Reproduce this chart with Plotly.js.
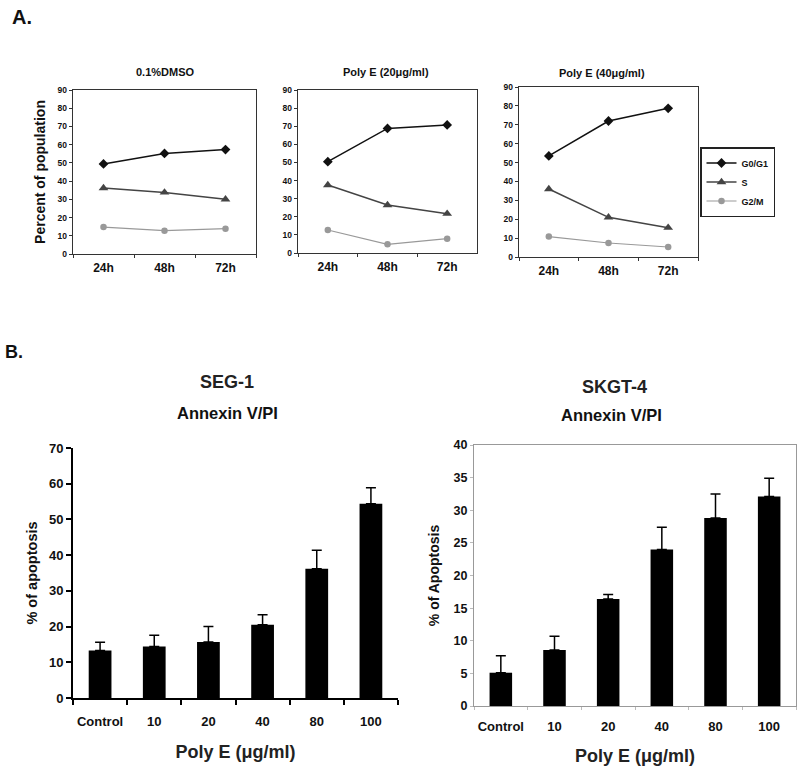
<!DOCTYPE html>
<html>
<head>
<meta charset="utf-8">
<script src="https://cdn.plot.ly/plotly-3.0.1.min.js"></script>
<style>html,body{margin:0;padding:0;background:#fff;}#chart{width:800px;height:771px;}</style>
</head>
<body>
<div id="chart"></div>
<script>
// ---- Data ----
const timepoints = ['24h', '48h', '72h'];
const dmso_G0G1 = [49.4, 55.2, 57.3];
const dmso_S    = [36.2, 33.8, 30.0];
const dmso_G2M  = [14.8, 12.8, 13.9];
const pe20_G0G1 = [50.4, 68.8, 70.7];
const pe20_S    = [37.5, 26.5, 21.7];
const pe20_G2M  = [12.7, 4.8, 7.9];
const pe40_G0G1 = [53.5, 72.0, 78.7];
const pe40_S    = [36.0, 21.0, 15.5];
const pe40_G2M  = [10.8, 7.4, 5.3];
const phaseNames = ['G0/G1', 'S', 'G2/M'];
const panelTitles = ['0.1%DMSO', 'Poly E (20μg/ml)', 'Poly E (40μg/ml)'];

const doses = ['Control', '10', '20', '40', '80', '100'];
const seg1_apoptosis = [13.3, 14.4, 15.7, 20.5, 36.2, 54.4];
const seg1_err       = [2.3, 3.2, 4.3, 2.8, 5.2, 4.5];
const skgt4_apoptosis = [5.1, 8.6, 16.4, 24.0, 28.8, 32.1];
const skgt4_err       = [2.6, 2.1, 0.7, 3.4, 3.7, 2.8];

// ---- Styles ----
const FONT = 'Liberation Sans, Arial, sans-serif';
const phaseStyles = [
  {line: {color: '#111', width: 1.5}, marker: {symbol: 'diamond', size: 7.5, color: '#111'}},
  {line: {color: '#444', width: 1.5}, marker: {symbol: 'triangle-up', size: 8.5, color: '#444'}},
  {line: {color: '#999', width: 1.2}, marker: {symbol: 'circle', size: 6.5, color: '#999'}}
];

const panels = [
  {series: [dmso_G0G1, dmso_S, dmso_G2M], xa: 'x', ya: 'y'},
  {series: [pe20_G0G1, pe20_S, pe20_G2M], xa: 'x2', ya: 'y2'},
  {series: [pe40_G0G1, pe40_S, pe40_G2M], xa: 'x3', ya: 'y3'}
];

const traces = [];
panels.forEach((p, pi) => {
  p.series.forEach((vals, si) => {
    traces.push({
      type: 'scatter', mode: 'lines+markers',
      x: timepoints, y: vals, xaxis: p.xa, yaxis: p.ya,
      name: phaseNames[si], legendgroup: phaseNames[si],
      showlegend: pi === 0,
      line: phaseStyles[si].line, marker: phaseStyles[si].marker
    });
  });
});

traces.push({
  type: 'bar', x: doses, y: seg1_apoptosis, xaxis: 'x4', yaxis: 'y4',
  marker: {color: '#000'}, showlegend: false, name: 'SEG-1',
  error_y: {type: 'data', symmetric: false, array: seg1_err, arrayminus: seg1_err.map(() => 0),
            color: '#000', thickness: 1.5, width: 5}
});
traces.push({
  type: 'bar', x: doses, y: skgt4_apoptosis, xaxis: 'x5', yaxis: 'y5',
  marker: {color: '#000'}, showlegend: false, name: 'SKGT-4',
  error_y: {type: 'data', symmetric: false, array: skgt4_err, arrayminus: skgt4_err.map(() => 0),
            color: '#000', thickness: 1.5, width: 5}
});

function pxX(px) { return px / 800; }
function pxY(py) { return 1 - py / 771; }

function aX(domain, extra) {
  return Object.assign({
    domain: domain, type: 'category', categoryorder: 'array', categoryarray: timepoints,
    range: [-0.5, 2.5], tickson: 'boundaries', ticks: 'outside', ticklen: 3, tickcolor: '#333',
    showline: true, linecolor: '#333', linewidth: 1.3, mirror: true, showgrid: false, zeroline: false,
    tickangle: 0, ticklabelstandoff: 2,
    tickfont: {family: FONT, size: 12, weight: 700, color: '#111'}, fixedrange: true
  }, extra || {});
}
function aY(domain, extra) {
  return Object.assign({
    domain: domain, range: [0, 90], dtick: 10, ticks: 'outside', ticklen: 3, tickcolor: '#333',
    showline: true, linecolor: '#333', linewidth: 1.3, mirror: true, showgrid: false, zeroline: false,
    tickfont: {family: FONT, size: 8.5, weight: 700, color: '#111'}, fixedrange: true
  }, extra || {});
}

function label(text, px, py, size, color) {
  return {text: text, x: pxX(px), y: pxY(py), xref: 'paper', yref: 'paper',
          xanchor: 'center', yanchor: 'middle', showarrow: false,
          font: {family: FONT, size: size, weight: 700, color: color || '#111'}};
}

const layout = {
  width: 800, height: 771,
  margin: {l: 0, r: 0, t: 0, b: 0},
  paper_bgcolor: '#fff', plot_bgcolor: '#fff',
  font: {family: FONT, color: '#111'},
  bargap: 0.58,
  showlegend: true,
  legend: {
    x: pxX(700), y: pxY(147), xanchor: 'left', yanchor: 'top',
    bordercolor: '#222', borderwidth: 1.5, bgcolor: '#fff',
    font: {family: FONT, size: 9, weight: 700, color: '#111'},
    itemwidth: 30, tracegroupgap: 0
  },
  xaxis: aX([pxX(73), pxX(256)], {anchor: 'y'}),
  yaxis: aY([pxY(254), pxY(90)], {anchor: 'x',
    title: {text: 'Percent of population', standoff: 8, font: {family: FONT, size: 14, weight: 700, color: '#111'}}}),
  xaxis2: aX([pxX(298), pxX(477)], {anchor: 'y2'}),
  yaxis2: aY([pxY(253), pxY(90)], {anchor: 'x2'}),
  xaxis3: aX([pxX(519), pxX(698)], {anchor: 'y3'}),
  yaxis3: aY([pxY(257), pxY(87)], {anchor: 'x3'}),
  xaxis4: {
    domain: [pxX(73), pxX(398)], anchor: 'y4', type: 'category', range: [-0.5, 5.5],
    tickson: 'boundaries', ticks: 'outside', ticklen: 5, tickwidth: 2, tickcolor: '#000',
    showline: true, linecolor: '#000', linewidth: 2, mirror: false, showgrid: false, zeroline: false,
    tickangle: 0, ticklabelstandoff: 10,
    tickfont: {family: FONT, size: 13, weight: 700, color: '#111'}, fixedrange: true,
    title: {text: 'Poly E (μg/ml)', standoff: 18, font: {family: FONT, size: 18, weight: 700, color: '#222'}}
  },
  yaxis4: {
    domain: [pxY(698), pxY(448)], anchor: 'x4', range: [0, 70], dtick: 10,
    ticks: 'outside', ticklen: 5, tickwidth: 2, tickcolor: '#000',
    showline: true, linecolor: '#000', linewidth: 2, mirror: false, showgrid: false, zeroline: false,
    tickfont: {family: FONT, size: 13, weight: 700, color: '#111'}, fixedrange: true,
    title: {text: '% of apoptosis', standoff: 8, font: {family: FONT, size: 14.5, weight: 700, color: '#111'}}
  },
  xaxis5: {
    domain: [pxX(474), pxX(796)], anchor: 'y5', type: 'category', range: [-0.5, 5.5],
    tickson: 'boundaries', ticks: 'outside', ticklen: 3, tickcolor: '#bbb',
    showline: true, linecolor: '#999', linewidth: 1, mirror: true, showgrid: false, zeroline: false,
    tickangle: 0, ticklabelstandoff: 8,
    tickfont: {family: FONT, size: 13, weight: 700, color: '#111'}, fixedrange: true,
    title: {text: 'Poly E (μg/ml)', standoff: 16, font: {family: FONT, size: 18, weight: 700, color: '#222'}}
  },
  yaxis5: {
    domain: [pxY(706), pxY(445)], anchor: 'x5', range: [0, 40], dtick: 5,
    ticks: 'outside', ticklen: 3, tickcolor: '#bbb',
    showline: true, linecolor: '#999', linewidth: 1, mirror: true, showgrid: false, zeroline: false,
    tickfont: {family: FONT, size: 12.5, weight: 700, color: '#111'}, fixedrange: true,
    title: {text: '% of Apoptosis', standoff: 10, font: {family: FONT, size: 14, weight: 700, color: '#111'}}
  },
  annotations: [
    label('A.', 22, 17, 20),
    label('B.', 14, 352, 18),
    label(panelTitles[0], 165, 72, 11),
    label(panelTitles[1], 386, 72, 11),
    label(panelTitles[2], 602, 73, 11),
    label('SEG-1', 227, 382, 18, '#222'),
    label('Annexin V/PI', 227, 413, 16.5),
    label('SKGT-4', 614, 387, 18, '#222'),
    label('Annexin V/PI', 611, 415, 16.5)
  ]
};

Plotly.newPlot('chart', traces, layout, {displayModeBar: false, staticPlot: true});
</script>
</body>
</html>
